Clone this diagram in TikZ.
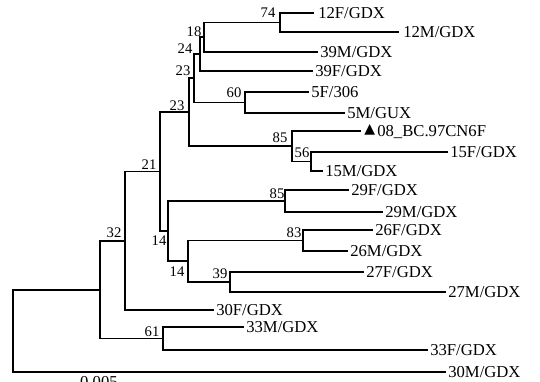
\documentclass[tikz,border=0pt]{standalone}
\usepackage{fontspec}
\setmainfont{Liberation Serif}
\newfontfamily\symfont{DejaVu Sans}
\begin{document}
\begin{tikzpicture}[x=0.75pt,y=-0.75pt,
  br/.style={line width=1.35pt,line cap=rect},
  leaf/.style={anchor=west,inner sep=0pt,font=\fontsize{12.5}{14}\selectfont,text depth=0pt},
  bs/.style={inner sep=0pt,font=\fontsize{11}{12}\selectfont},
  tri/.style={anchor=west,inner sep=0pt,font=\symfont\fontsize{10.5}{12}\selectfont}]
\useasboundingbox (0,0) rectangle (540,382);
% leaf tips
\coordinate (c12F) at (313,13);
\coordinate (c12M) at (398,32);
\coordinate (c39M) at (317,52);
\coordinate (c39F) at (312,71);
\coordinate (c5F) at (308,92);
\coordinate (c5M) at (344,113);
\coordinate (c08) at (360,131);
\coordinate (c15F) at (447,152);
\coordinate (c15M) at (322,171);
\coordinate (c29F) at (348,190);
\coordinate (c29M) at (382,212);
\coordinate (c26F) at (372,230);
\coordinate (c26M) at (347,251);
\coordinate (c27F) at (363,272);
\coordinate (c27M) at (445,292);
\coordinate (c30F) at (213,310);
\coordinate (c33M) at (243,327);
\coordinate (c33F) at (427,350);
\coordinate (c30M) at (445,372);
% internal nodes
\coordinate (n74) at (280,22.5);
\coordinate (n18) at (204,37);
\coordinate (n24) at (200,54);
\coordinate (n60) at (245,102.5);
\coordinate (n23a) at (194,78);
\coordinate (n56) at (311,161.5);
\coordinate (n85a) at (292,146);
\coordinate (n23b) at (189,112);
\coordinate (n85b) at (285,201);
\coordinate (n83) at (303,240.5);
\coordinate (n39) at (230,282);
\coordinate (n14b) at (188,261);
\coordinate (n14a) at (168,231);
\coordinate (n21) at (160,171.5);
\coordinate (n32) at (125,241);
\coordinate (n61) at (163,338.5);
\coordinate (nX) at (100,290);
\coordinate (nR) at (13,331);
% branches
\draw[br] (n74) |- (c12F); \draw[br] (n74) |- (c12M);
\draw[br] (n18) |- (n74); \draw[br] (n18) |- (c39M);
\draw[br] (n24) |- (n18); \draw[br] (n24) |- (c39F);
\draw[br] (n60) |- (c5F); \draw[br] (n60) |- (c5M);
\draw[br] (n23a) |- (n24); \draw[br] (n23a) |- (n60);
\draw[br] (n56) |- (c15F); \draw[br] (n56) |- (c15M);
\draw[br] (n85a) |- (c08); \draw[br] (n85a) |- (n56);
\draw[br] (n23b) |- (n23a); \draw[br] (n23b) |- (n85a);
\draw[br] (n85b) |- (c29F); \draw[br] (n85b) |- (c29M);
\draw[br] (n83) |- (c26F); \draw[br] (n83) |- (c26M);
\draw[br] (n39) |- (c27F); \draw[br] (n39) |- (c27M);
\draw[br] (n14b) |- (n83); \draw[br] (n14b) |- (n39);
\draw[br] (n14a) |- (n85b); \draw[br] (n14a) |- (n14b);
\draw[br] (n21) |- (n23b); \draw[br] (n21) |- (n14a);
\draw[br] (n32) |- (n21); \draw[br] (n32) |- (c30F);
\draw[br] (n61) |- (c33M); \draw[br] (n61) |- (c33F);
\draw[br] (nX) |- (n32); \draw[br] (nX) |- (n61);
\draw[br] (nR) |- (nX); \draw[br] (nR) |- (c30M);
% leaf labels
\node[leaf] (t12F) at (318,13) {12F/GDX};
\node[leaf] (t12M) at (403,32) {12M/GDX};
\node[leaf] (t39M) at (320,52) {39M/GDX};
\node[leaf] (t39F) at (315,71) {39F/GDX};
\node[leaf] (t5F) at (311,92) {5F/306};
\node[leaf] (t5M) at (347,113) {5M/GUX};
\node[tri] (tri08) at (364,130) {▲};
\node[leaf] (t08) at (377,131) {08\_BC.97CN6F};
\node[leaf] (t15F) at (450,152) {15F/GDX};
\node[leaf] (t15M) at (325,171) {15M/GDX};
\node[leaf] (t29F) at (351,190) {29F/GDX};
\node[leaf] (t29M) at (385,212) {29M/GDX};
\node[leaf] (t26F) at (375,230) {26F/GDX};
\node[leaf] (t26M) at (350,251) {26M/GDX};
\node[leaf] (t27F) at (366,272) {27F/GDX};
\node[leaf] (t27M) at (448,292) {27M/GDX};
\node[leaf] (t30F) at (216,310) {30F/GDX};
\node[leaf] (t33M) at (246,327) {33M/GDX};
\node[leaf] (t33F) at (430,350) {33F/GDX};
\node[leaf] (t30M) at (448,372) {30M/GDX};
% bootstrap values
\node[bs] (b74) at (268,13) {74};
\node[bs] (b18) at (194,32) {18};
\node[bs] (b24) at (185,49) {24};
\node[bs] (b23a) at (183,71) {23};
\node[bs] (b23b) at (177,106) {23};
\node[bs] (b60) at (234,93) {60};
\node[bs] (b85a) at (280,138) {85};
\node[bs] (b56) at (302,153) {56};
\node[bs] (b21) at (149,165) {21};
\node[bs] (b85b) at (277,194) {85};
\node[bs] (b83) at (294,233) {83};
\node[bs] (b32) at (114,233) {32};
\node[bs] (b14a) at (159,241) {14};
\node[bs] (b14b) at (177,272) {14};
\node[bs] (b39) at (220,274) {39};
\node[bs] (b61) at (152,332) {61};
% scale
\node[leaf,anchor=north] (scale) at (99,376.5) {0.005};
\end{tikzpicture}
\end{document}
